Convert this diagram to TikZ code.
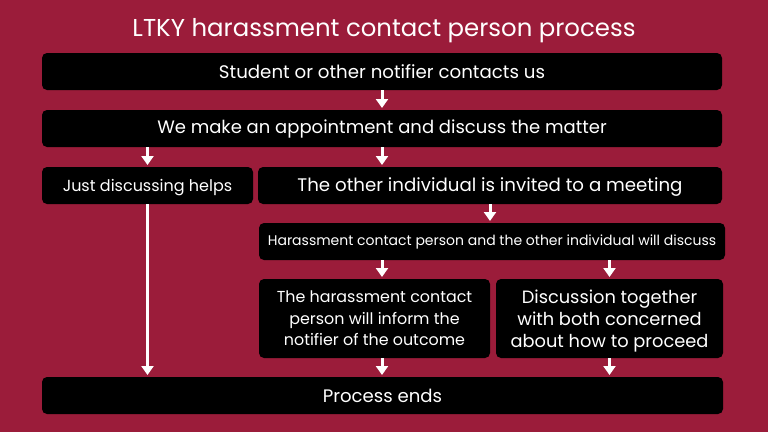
\documentclass[tikz,border=0pt]{standalone}
\usepackage{fontspec}
\setmainfont{Poppins}
\usetikzlibrary{arrows.meta}
\definecolor{bgred}{HTML}{9B1C3A}
\newcommand{\lowered}[2]{\raisebox{-#1}[\height][\depth]{#2}}
\tikzset{
  box/.style={fill=black, rounded corners=5pt, inner sep=0pt, outer sep=0pt, anchor=north west, text=white, align=center},
  arr/.style={draw=white, line width=3pt, -{Triangle[width=12pt,length=9pt]}, shorten >=2pt},
  ttl/.style={text=white, font=\fontsize{24.4}{28}\selectfont}
}
\begin{document}
\begin{tikzpicture}[x=1pt,y=-1pt]
\fill[bgred] (0,0) rectangle (768,432);
\useasboundingbox (0,0) rectangle (768,432);
\node[ttl, anchor=base] (title) at (384,36) {LTKY harassment contact person process};
\node[box, minimum width=680pt, minimum height=37pt, font=\fontsize{18.2}{21}\selectfont] (b1) at (42,53) {Student or other notifier contacts us};
\node[box, minimum width=680pt, minimum height=37pt, font=\fontsize{18}{21}\selectfont] (b2) at (42,110) {We make an appointment and discuss the matter};
\node[box, minimum width=211pt, minimum height=37pt, font=\fontsize{16}{19}\selectfont] (b3) at (42,167) {\lowered{2pt}{Just discussing helps}};
\node[box, minimum width=464pt, minimum height=37pt, font=\fontsize{18.2}{21}\selectfont] (b4) at (258,167) {\lowered{2pt}{The other individual is invited to a meeting}};
\node[box, minimum width=466pt, minimum height=37pt, font=\fontsize{14}{17}\selectfont] (b5) at (259,223) {Harassment contact person and the other individual will discuss};
\node[box, minimum width=231pt, minimum height=79pt, font=\fontsize{15.9}{21.5}\selectfont] (b6) at (259,279) {The harassment contact\\person will inform the\\notifier of the outcome};
\node[box, minimum width=227pt, minimum height=79pt, font=\fontsize{17.8}{22}\selectfont] (b7) at (496,279) {\lowered{2.5pt}{\begin{tabular}{@{}c@{}}Discussion together\\with both concerned\\about how to proceed\end{tabular}}};
\node[box, minimum width=681pt, minimum height=37pt, font=\fontsize{18.1}{21}\selectfont] (b8) at (42,377) {Process ends};
\draw[arr] (b1.south) -- (b2.north);
\draw[arr] (b2.south -| b3.north) -- (b3.north);
\draw[arr] (b2.south) -- (b2.south |- b4.north);
\draw[arr] (b4.south) -- (b4.south |- b5.north);
\draw[arr] (b5.south -| b1.south) -- (b6.north -| b1.south);
\draw[arr] (b5.south -| b7.north) -- (b7.north);
\draw[arr] (b3.south) -- (b3.south |- b8.north);
\draw[arr] (b6.south -| b1.south) -- (b8.north -| b1.south);
\draw[arr] (b7.south) -- (b7.south |- b8.north);
\end{tikzpicture}
\end{document}
